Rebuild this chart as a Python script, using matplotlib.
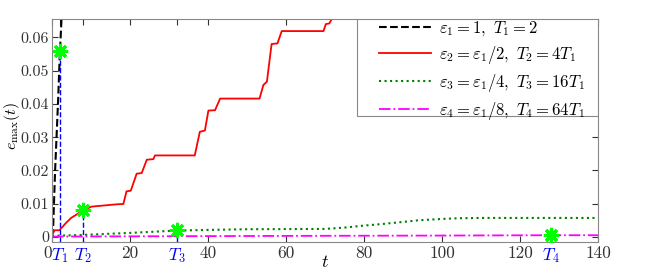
import matplotlib
matplotlib.use('Agg')
import matplotlib.pyplot as plt
from matplotlib.patches import Rectangle

plt.rcParams['font.family'] = 'serif'
plt.rcParams['font.serif'] = ['cmr10', 'DejaVu Serif']
plt.rcParams['mathtext.fontset'] = 'cm'
plt.rcParams['axes.formatter.use_mathtext'] = True

# black dashed: eps1 = 1
t1 = [0, 0.3, 0.8, 1.2, 1.6, 2.0, 2.3, 2.6, 3.0]
e1 = [0, 0.003, 0.02, 0.031, 0.042, 0.055, 0.062, 0.07, 0.08]

# red: eps2 = eps1/2
t2 = [0, 0.7, 1.9, 3.6, 4.9, 8.0, 10.1, 16.6, 18.3, 19.1, 20.2, 21.7, 23.0, 24.3, 26.0,
      26.4, 36.6, 37.9, 39.2, 40.1, 41.8, 43.1, 53.2, 54.2, 55.1, 56.3, 57.8, 58.9,
      69.6, 70.2, 71.1, 71.7, 72.5]
e2 = [0.0006, 0.002, 0.002, 0.0042, 0.0057, 0.008, 0.0091, 0.0098, 0.0099, 0.0137, 0.0139,
      0.019, 0.0192, 0.0232, 0.0234, 0.0245, 0.0245, 0.0316, 0.032, 0.038, 0.0381, 0.0416,
      0.0416, 0.0457, 0.0467, 0.058, 0.0582, 0.0619, 0.0619, 0.064, 0.0642, 0.0655, 0.068]

# green dotted: eps3 = eps1/4
t3 = [0, 8, 20, 32, 40, 50, 70, 75, 80, 84, 90, 94, 100, 104, 110, 140]
e3 = [0.0003, 0.0006, 0.0012, 0.0019, 0.0021, 0.0023, 0.0024, 0.0028, 0.0034, 0.0038,
      0.0045, 0.005, 0.0054, 0.0056, 0.0057, 0.0057]

# magenta dash-dot: eps4 = eps1/8
t4 = [0, 30, 60, 100, 128, 140]
e4 = [0.0001, 0.0002, 0.0003, 0.0004, 0.0005, 0.0005]

# T_k markers
T = [2, 8, 32, 128]
T_err = [0.056, 0.008, 0.002, 0.0005]
T_labels = ['$T_1$', '$T_2$', '$T_3$', '$T_4$']

labels = [r'$\varepsilon_1=1,\ T_1=2$',
          r'$\varepsilon_2=\varepsilon_1/2,\ T_2=4T_1$',
          r'$\varepsilon_3=\varepsilon_1/4,\ T_3=16T_1$',
          r'$\varepsilon_4=\varepsilon_1/8,\ T_4=64T_1$']

fig = plt.figure(figsize=(6.54, 2.73), dpi=100)
ax = fig.add_axes([0.0795, 0.114, 0.835, 0.816])

ymin, ymax = -0.0015, 0.0655
ax.plot(t1, e1, '--', color='k', lw=1.5, label=labels[0])
ax.plot(t2, e2, '-', color='#ff0000', lw=1.3, label=labels[1])
ax.plot(t3, e3, ':', color='#008000', lw=1.5, label=labels[2])
ax.plot(t4, e4, '-.', color='#ff00ff', lw=1.3, label=labels[3])

for tk, ek in zip(T, T_err):
    ax.plot([tk, tk], [ymin, ek], '--', color='#0000ff', lw=1.0)
ax.plot(T, T_err, ls='none', marker=(8, 2, 0), ms=11, mew=2.2, color='#00ff00', zorder=5)

ax.set_xlim(0, 140)
ax.set_ylim(ymin, ymax)

xt = [0, 2, 8, 20, 32, 40, 60, 80, 100, 120, 128, 140]
xl = ['0', T_labels[0], T_labels[1], '20', T_labels[2], '40', '60', '80', '100', '120', T_labels[3], '140']
ax.set_xticks(xt)
ax.set_xticklabels(xl)
for tl, v in zip(ax.xaxis.get_major_ticks(), xt):
    if v in T:
        tl.tick1line.set_visible(False)
        tl.tick2line.set_visible(False)
ax.set_yticks([0, 0.01, 0.02, 0.03, 0.04, 0.05, 0.06])
ax.set_yticklabels(['0', '0.01', '0.02', '0.03', '0.04', '0.05', '0.06'])

ax.tick_params(direction='in', top=True, right=True, length=4, labelsize=12.5,
               colors='#333333', pad=2)
ax.tick_params(axis='y', labelsize=11.5)
ax.tick_params(axis='x', pad=3)
for lab, v in zip(ax.get_xticklabels(), xt):
    if v in T:
        lab.set_color('#0000ff')
    if v == 0:
        lab.set_horizontalalignment('right')
for s in ax.spines.values():
    s.set_color('#888888')

ax.set_xlabel('$t$', fontsize=13, labelpad=-8)
ax.set_ylabel(r'$e_{\max}(t)$', fontsize=11.5)
ax.yaxis.set_label_coords(-0.055, 0.52)

# legend box drawn by hand (MATLAB style padding)
ax.add_patch(Rectangle((0.559, 0.565), 0.441, 0.435, transform=ax.transAxes,
                       facecolor='white', edgecolor='#888888', lw=0.8, zorder=6))
leg = ax.legend(loc='center', bbox_to_anchor=(0.787, 0.77), fontsize=12, frameon=False,
                handlelength=3.1, borderaxespad=0, labelspacing=0.36, borderpad=0.0,
                handletextpad=0.5)
leg.set_zorder(7)

fig.savefig('out.png', dpi=100)
